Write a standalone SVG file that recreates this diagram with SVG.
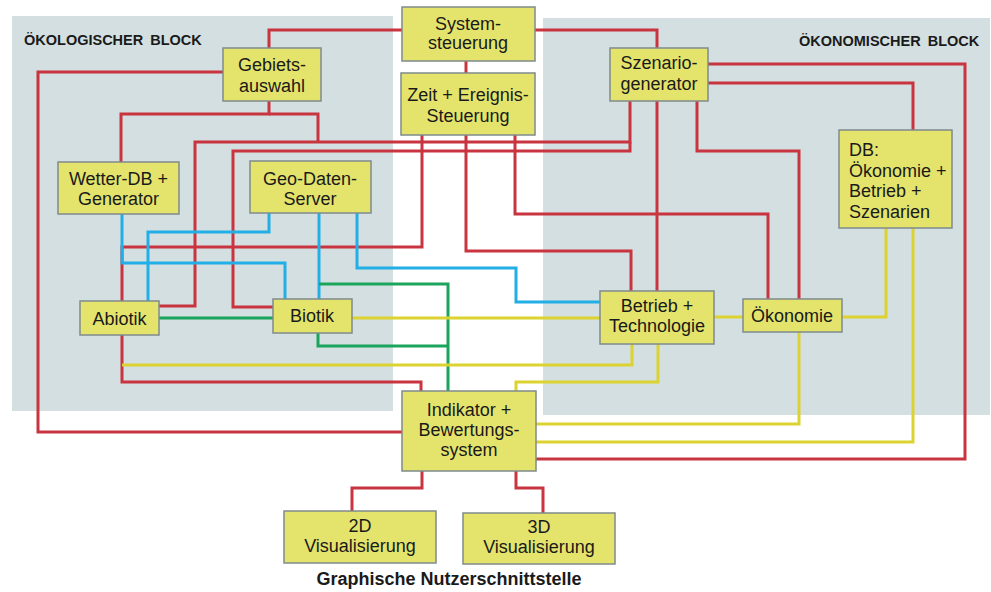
<svg xmlns="http://www.w3.org/2000/svg" width="991" height="592" viewBox="0 0 991 592">
<style>
.bg{fill:#d4dfe1}
.box{fill:#e4e46c;stroke:#7f8b8c;stroke-width:1.5}
.t{font-family:"Liberation Sans",Arial,sans-serif;font-size:18px;fill:#1a1a1a;text-anchor:middle}
.tl{text-anchor:start}
.h{font-family:"Liberation Sans",Arial,sans-serif;font-size:14.5px;font-weight:bold;fill:#1a1a1a;word-spacing:3px}
.c{fill:none;stroke-width:3;stroke-linejoin:miter}
.r{stroke:#c8343f}
.b{stroke:#22aee6}
.g{stroke:#1ba55c}
.y{stroke:#dcd330}
</style>
<rect width="991" height="592" fill="#ffffff"/>
<g id="bloecke">
<rect class="bg" x="12" y="16" width="381" height="395"/>
<rect class="bg" x="543" y="18" width="447" height="397"/>
<text class="h" x="24" y="45">ÖKOLOGISCHER BLOCK</text>
<text class="h" x="799" y="46">ÖKONOMISCHER BLOCK</text>
</g>
<g id="connectors">
<g class="c r">
<path d="M402,30 H269 V48"/>
<path d="M535,30 H657 V48"/>
<path d="M466,61 V73"/>
<path d="M223,72 H38 V432 H402"/>
<path d="M269,101 V114 H121 V162"/>
<path d="M269,114 H318 V142"/>
<path d="M630,101 V142 H195 V306 H159"/>
<path d="M630,142 V151 H233 V307 H273"/>
<path d="M422,135 V247 H122 V301"/>
<path d="M466,135 V251 H631 V291"/>
<path d="M515,135 V214 H768 V299"/>
<path d="M657,101 V291"/>
<path d="M697,101 V151 H799 V299"/>
<path d="M708,64 H965 V459 H536"/>
<path d="M708,83 H913 V130"/>
<path d="M122,335 V382 H421 V391"/>
<path d="M422,471 V488 H352 V511"/>
<path d="M516,471 V488 H543 V513"/>
</g>
<g class="c b">
<path d="M122,214 V263 H285 V299"/>
<path d="M269,213 V232 H148 V301"/>
<path d="M319,213 V299"/>
<path d="M357,213 V268 H516 V302 H600"/>
</g>
<g class="c g">
<path d="M159,318 H273"/>
<path d="M319,284 H448 V391"/>
<path d="M318,333 V346 H448"/>
</g>
<g class="c y">
<path d="M352,318 H600"/>
<path d="M714,317 H743"/>
<path d="M842,317 H886 V228"/>
<path d="M122,365 H632 V344"/>
<path d="M658,344 V382 H516 V391"/>
<path d="M799,332 V424 H536"/>
<path d="M913,228 V442 H536"/>
</g>
</g>
<g id="systemsteuerung">
<rect class="box" x="402" y="7" width="133" height="54"/>
<text class="t" x="468" y="30">System-</text>
<text class="t" x="468" y="49">steuerung</text>
</g>
<g id="zeit">
<rect class="box" x="401" y="73" width="134" height="62"/>
<text class="t" x="468" y="101">Zeit + Ereignis-</text>
<text class="t" x="468" y="122">Steuerung</text>
</g>
<g id="gebietsauswahl">
<rect class="box" x="223" y="48" width="98" height="53"/>
<text class="t" x="272" y="71">Gebiets-</text>
<text class="t" x="272" y="92">auswahl</text>
</g>
<g id="szenariogenerator">
<rect class="box" x="610" y="48" width="98" height="53"/>
<text class="t" x="659" y="69">Szenario-</text>
<text class="t" x="659" y="90">generator</text>
</g>
<g id="wetter">
<rect class="box" x="58" y="162" width="121" height="52"/>
<text class="t" x="118.5" y="185">Wetter-DB +</text>
<text class="t" x="118.5" y="205">Generator</text>
</g>
<g id="geodaten">
<rect class="box" x="250" y="161" width="121" height="52"/>
<text class="t" x="310" y="185">Geo-Daten-</text>
<text class="t" x="310" y="205">Server</text>
</g>
<g id="db">
<rect class="box" x="839" y="130" width="113" height="98"/>
<text class="t tl" x="849" y="156">DB:</text>
<text class="t tl" x="849" y="177">Ökonomie +</text>
<text class="t tl" x="849" y="197">Betrieb +</text>
<text class="t tl" x="849" y="218">Szenarien</text>
</g>
<g id="abiotik">
<rect class="box" x="80" y="301" width="79" height="34"/>
<text class="t" x="119.5" y="325">Abiotik</text>
</g>
<g id="biotik">
<rect class="box" x="273" y="299" width="79" height="34"/>
<text class="t" x="312" y="322">Biotik</text>
</g>
<g id="betrieb">
<rect class="box" x="600" y="291" width="114" height="53"/>
<text class="t" x="657" y="312">Betrieb +</text>
<text class="t" x="657" y="332">Technologie</text>
</g>
<g id="oekonomie">
<rect class="box" x="743" y="299" width="99" height="33"/>
<text class="t" x="792" y="322">Ökonomie</text>
</g>
<g id="indikator">
<rect class="box" x="402" y="391" width="134" height="80"/>
<text class="t" x="469" y="416">Indikator +</text>
<text class="t" x="469" y="436">Bewertungs-</text>
<text class="t" x="469" y="456">system</text>
</g>
<g id="vis2d">
<rect class="box" x="284" y="511" width="152" height="52"/>
<text class="t" x="360" y="532">2D</text>
<text class="t" x="360" y="552">Visualisierung</text>
</g>
<g id="vis3d">
<rect class="box" x="463" y="513" width="152" height="51"/>
<text class="t" x="539" y="533">3D</text>
<text class="t" x="539" y="553">Visualisierung</text>
</g>
<text x="449" y="585" style="font-family:'Liberation Sans',Arial,sans-serif;font-size:18px;font-weight:bold;fill:#1a1a1a;text-anchor:middle">Graphische Nutzerschnittstelle</text>
</svg>
